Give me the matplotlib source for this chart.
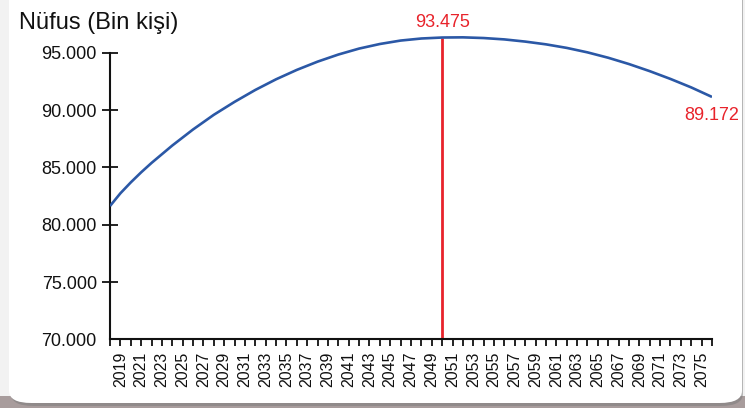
import matplotlib.pyplot as plt
from matplotlib.patches import FancyBboxPatch, Rectangle
from matplotlib.ticker import FuncFormatter, MultipleLocator

plt.rcParams['font.family'] = ['Liberation Sans', 'DejaVu Sans']

# Nüfus projeksiyonu (eksene göre)
yillar = [2018, 2019, 2020, 2021, 2022, 2024, 2026, 2028, 2030, 2032, 2034, 2036,
          2038, 2040, 2042, 2044, 2046, 2048, 2050, 2052, 2054, 2056,
          2058, 2060, 2062, 2064, 2066, 2068, 2070, 2072, 2074, 2076]
nufus = [81630, 82740, 83690, 84570, 85390, 86910, 88310, 89590, 90720, 91760,
         92690, 93510, 94230, 94850, 95370, 95770, 96070, 96250, 96335, 96350,
         96290, 96170, 95980, 95740, 95430, 95040, 94570, 94020, 93400, 92720,
         91980, 91150]

zirve_yil = 2050
zirve_etiket = "93.475"
son_etiket = "89.172"
y_ticks = [70000, 75000, 80000, 85000, 90000, 95000]

fig = plt.figure(figsize=(7.45, 4.08), dpi=100)
fig.patch.set_facecolor('#f2f2f2')

# arka plan: alt şerit ve beyaz kart
fig.add_artist(Rectangle((0, 0), 1, 12 / 408, transform=fig.transFigure,
                         facecolor='#a89c9c', edgecolor='none', zorder=0))
shadow = FancyBboxPatch((11 / 745, 2 / 408), 732 / 745, 430 / 408,
                        boxstyle="round,pad=0,rounding_size=0.03",
                        transform=fig.transFigure, facecolor='#7a7a7a',
                        edgecolor='none', alpha=0.5, zorder=0)
fig.add_artist(shadow)
panel = FancyBboxPatch((9 / 745, 5 / 408), 733 / 745, 430 / 408,
                       boxstyle="round,pad=0,rounding_size=0.03",
                       transform=fig.transFigure, facecolor='white',
                       edgecolor='none', zorder=0)
fig.add_artist(panel)

ax = fig.add_axes([110 / 745, 68.7 / 408, 602 / 745, 309.4 / 408])
ax.set_facecolor('none')

ax.plot(yillar, nufus, color='#2b58a6', lw=1.9, solid_capstyle='butt',
        solid_joinstyle='round', zorder=3)

zirve_deger = nufus[yillar.index(zirve_yil)]
ax.vlines(zirve_yil, 70000, zirve_deger, color='#e8232b', lw=2, zorder=2)

ax.annotate(zirve_etiket, (zirve_yil, zirve_deger), xytext=(0, 5),
            textcoords='offset points', ha='center', va='bottom',
            color='#e8232b', fontsize=13)
ax.annotate(son_etiket, (yillar[-1], nufus[-1]), xytext=(0, -7),
            textcoords='offset points', ha='center', va='top',
            color='#e8232b', fontsize=13)

ax.set_xlim(2018, 2076)
ax.set_ylim(70000, 97000)
ax.spines['left'].set_bounds(70000, 95000)
for s in ['top', 'right']:
    ax.spines[s].set_visible(False)
for s in ['left', 'bottom']:
    ax.spines[s].set_linewidth(1.5)
    ax.spines[s].set_color('#111111')

ax.set_yticks(y_ticks)
ax.yaxis.set_major_formatter(FuncFormatter(lambda v, p: f"{v:,.0f}".replace(',', '.')))
ax.tick_params(axis='y', direction='inout', length=11, width=1.3, pad=4,
               labelsize=13, colors='#111111')
ax.yaxis.get_major_ticks()[0].tick1line.set_visible(False)

ax.xaxis.set_major_locator(MultipleLocator(2, offset=1))
ax.xaxis.set_minor_locator(MultipleLocator(1))
ax.xaxis.set_major_formatter(FuncFormatter(lambda v, p: f"{int(round(v))}"))
ax.tick_params(axis='x', which='both', direction='out', length=5, width=1.3,
               colors='#111111')
ax.tick_params(axis='x', which='major', labelsize=11.5, labelrotation=90, pad=4)

fig.text(19 / 745, 1 - 23 / 408, "Nüfus (Bin kişi)", fontsize=17,
         va='center', ha='left', color='#111111')

fig.savefig('out.png', dpi=100, facecolor=fig.get_facecolor())
